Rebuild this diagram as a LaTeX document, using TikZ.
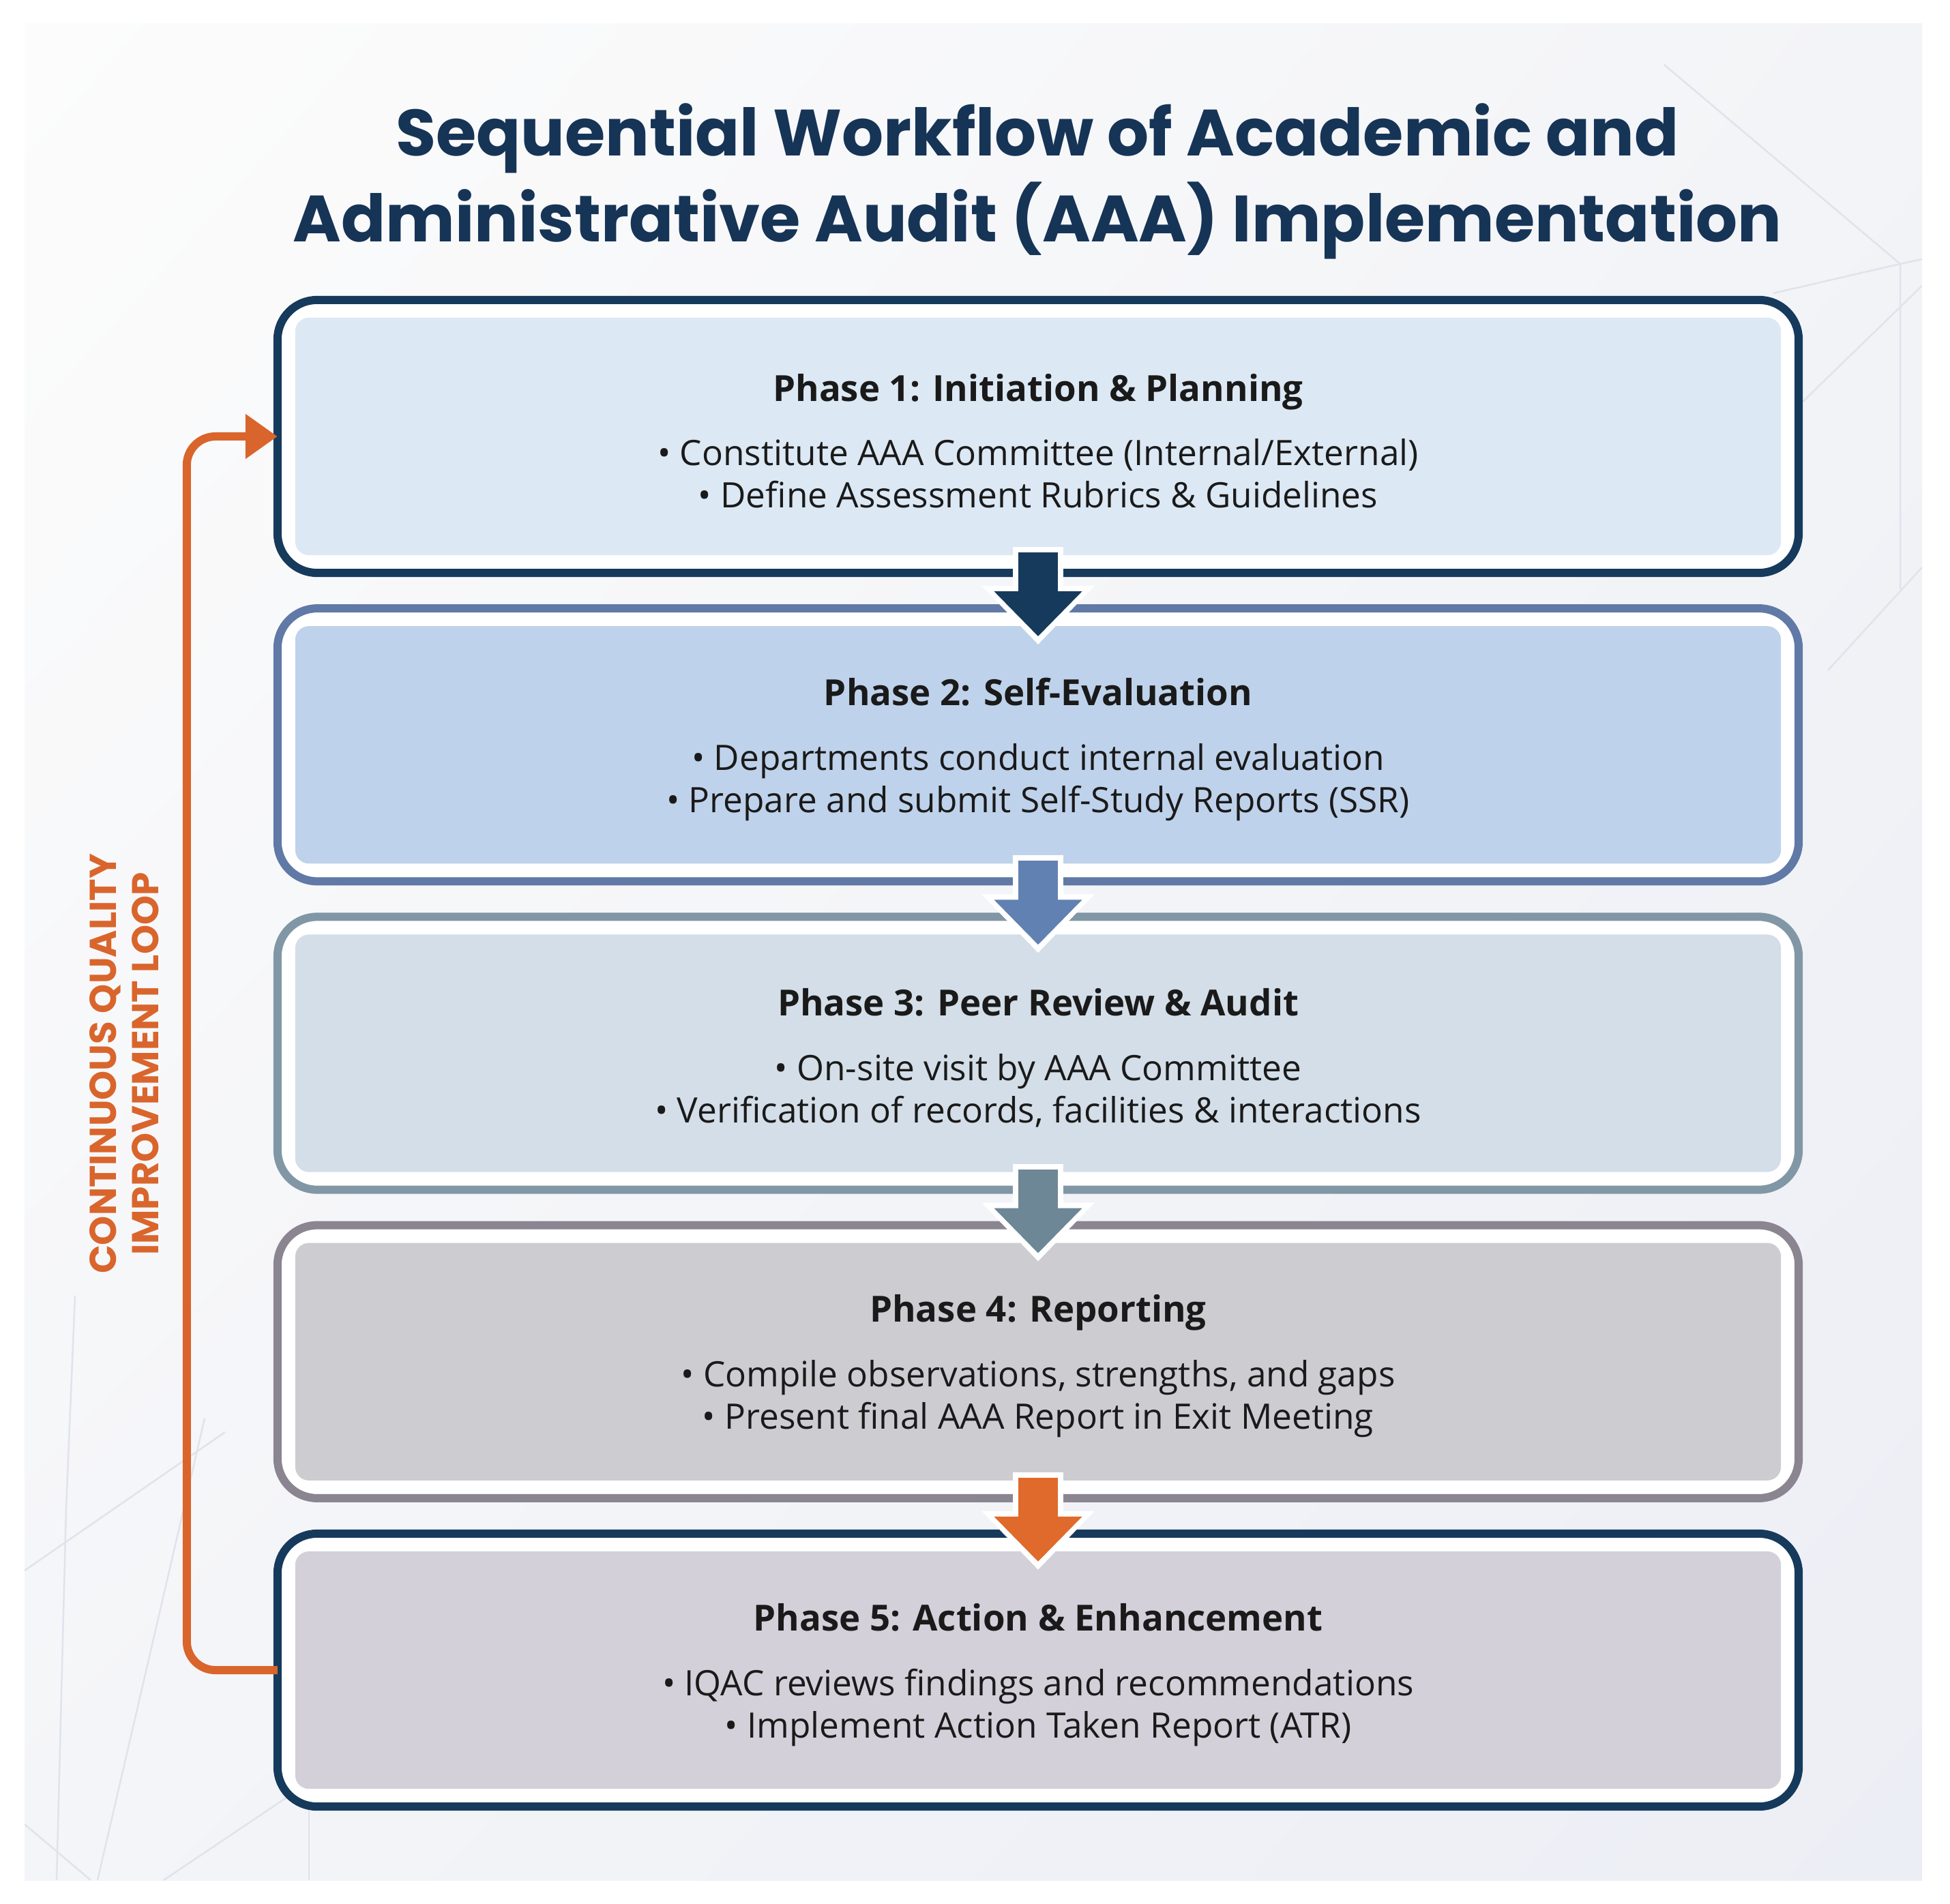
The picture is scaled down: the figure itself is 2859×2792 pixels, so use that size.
\documentclass[tikz,border=0pt]{standalone}
\usepackage{fontspec}
\setmainfont{Open Sans}
\newfontfamily\titlefont{Poppins}
\usetikzlibrary{arrows.meta,positioning,shadings}

\definecolor{navy}{HTML}{163A5C}
\definecolor{bordtwo}{HTML}{6079A6}
\definecolor{bordthree}{HTML}{8197A6}
\definecolor{bordfour}{HTML}{8A8590}
\definecolor{fillone}{HTML}{DCE8F4}
\definecolor{filltwo}{HTML}{BFD2EB}
\definecolor{fillthree}{HTML}{D3DEE8}
\definecolor{fillfour}{HTML}{CDCCD1}
\definecolor{fillfive}{HTML}{D3D0DA}
\definecolor{arrowtwo}{HTML}{6281B3}
\definecolor{arrowthree}{HTML}{6E8796}
\definecolor{arrowfour}{HTML}{E06A2B}
\definecolor{loopc}{HTML}{D9652C}
\definecolor{titleblue}{HTML}{163456}
\definecolor{textdark}{HTML}{1A1A1A}
\definecolor{bgl}{HTML}{E1E3EC}
\definecolor{bgtl}{HTML}{FCFCFC}
\definecolor{bgtr}{HTML}{F3F4F7}
\definecolor{bgbl}{HTML}{F4F5F8}
\definecolor{bgbr}{HTML}{ECEEF5}

\newcommand\phasehead[1]{{\bfseries\fontsize{15}{17.6}\selectfont\rule{0pt}{15.2pt}#1}}

\begin{document}
\begin{tikzpicture}[x=0.01cm, y=0.01cm,
  node distance=0.52cm,
  phase/.style 2 args={draw=#1, line width=0.12cm, fill=white,
    rounded corners=0.58cm, minimum width=22.29cm, minimum height=4cm,
    inner sep=0pt, outer sep=0pt, align=center, text=textdark,
    font=\fontsize{14.6}{17.6}\selectfont,
    path picture={\fill[#2, rounded corners=0.2cm]
      ([shift={(0.26cm,0.26cm)}]path picture bounding box.south west) rectangle
      ([shift={(-0.26cm,-0.26cm)}]path picture bounding box.north east);}},
  flow/.style={draw=#1, line width=0.57cm, shorten <=-0.3cm, shorten >=-0.41cm,
    -{Triangle[length=0.66cm, width=1.25cm]}},
  flowhalo/.style={draw=white, line width=0.73cm, shorten <=-0.38cm, shorten >=-0.53cm,
    -{Triangle[length=0.86cm, width=1.6cm]}},
  loopline/.style={draw=loopc, line width=0.12cm, rounded corners=0.42cm,
    -{Triangle[length=0.47cm, width=0.63cm]}},
  bgline/.style={draw=bgl, line width=0.025cm}
]
% page and panel
\fill[white] (0,0) rectangle (2859,-2792);
\shade[upper left=bgtl, upper right=bgtr, lower left=bgbl, lower right=bgbr]
  (36,-35) rectangle (2818,-2757);
\useasboundingbox (0,0) rectangle (2859,-2792);

% faint background lines
\begin{scope}
\clip (36,-35) rectangle (2818,-2757);
\draw[bgline] (2440,-95) -- (2786,-387) -- (2786,-864);
\draw[bgline] (2600,-430) -- (2786,-387) -- (2818,-380);
\draw[bgline] (2637,-595) -- (2818,-419);
\draw[bgline] (2680,-983) -- (2818,-832);
\draw[bgline] (36,-2303) -- (330,-2100);
\draw[bgline] (110,-1900) -- (97,-2211) -- (83,-2757);
\draw[bgline] (36,-2675) -- (133,-2757);
\draw[bgline] (300,-2080) -- (143,-2757);
\draw[bgline] (240,-2757) -- (420,-2636);
\draw[bgline] (453,-2644) -- (453,-2757);
\end{scope}

% title
\node[font=\titlefont\bfseries\fontsize{27.3}{36}\selectfont, text=titleblue,
  align=center] (title) at (1521,-266)
  {Sequential Workflow of Academic and\\Administrative Audit (AAA) Implementation};

% phases
\node[phase={navy}{fillone}] (p1) at (1522,-640)
  {\phasehead{Phase 1: Initiation \& Planning}\\[9.4pt]
   • Constitute AAA Committee (Internal/External)\\
   • Define Assessment Rubrics \& Guidelines};
\node[phase={bordtwo}{filltwo}, below=of p1] (p2)
  {\phasehead{Phase 2: Self-Evaluation}\\[9.4pt]
   • Departments conduct internal evaluation\\
   • Prepare and submit Self-Study Reports (SSR)};
\node[phase={bordthree}{fillthree}, below=of p2] (p3)
  {\phasehead{Phase 3: Peer Review \& Audit}\\[9.4pt]
   • On-site visit by AAA Committee\\
   • Verification of records, facilities \& interactions};
\node[phase={bordfour}{fillfour}, below=of p3] (p4)
  {\phasehead{Phase 4: Reporting}\\[9.4pt]
   • Compile observations, strengths, and gaps\\
   • Present final AAA Report in Exit Meeting};
\node[phase={navy}{fillfive}, below=of p4] (p5)
  {\phasehead{Phase 5: Action \& Enhancement}\\[9.4pt]
   • IQAC reviews findings and recommendations\\
   • Implement Action Taken Report (ATR)};

% arrows between phases
\draw[flowhalo] (p1.south) -- (p2.north);
\draw[flow=navy] (p1.south) -- (p2.north);
\draw[flowhalo] (p2.south) -- (p3.north);
\draw[flow=arrowtwo] (p2.south) -- (p3.north);
\draw[flowhalo] (p3.south) -- (p4.north);
\draw[flow=arrowthree] (p3.south) -- (p4.north);
\draw[flowhalo] (p4.south) -- (p5.north);
\draw[flow=arrowfour] (p4.south) -- (p5.north);

% feedback loop
\draw[loopline] (p5.west) -- ++(-133,0) |- (p1.west);
\node[font=\titlefont\bfseries\fontsize{15.6}{17.6}\selectfont, text=loopc,
  align=center, rotate=90] (looplabel) at (182,-1560)
  {CONTINUOUS QUALITY\\IMPROVEMENT LOOP};
\end{tikzpicture}
\end{document}
